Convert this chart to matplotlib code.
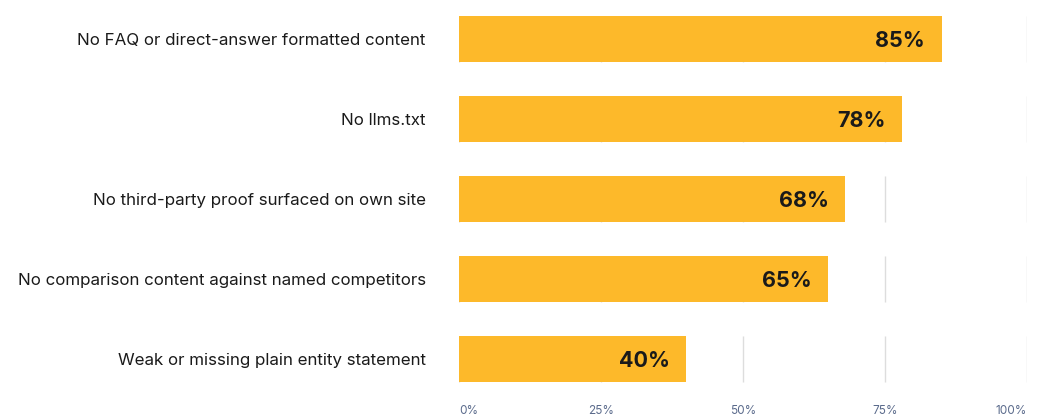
from matplotlib import pyplot as plt

categories = [
    'No FAQ or direct-answer formatted content',
    'No llms.txt',
    'No third-party proof surfaced on own site',
    'No comparison content against named competitors',
    'Weak or missing plain entity statement',
]
values = [85, 78, 68, 65, 40]
ticks = [0, 25, 50, 75, 100]
tick_labels = ['0%', '25%', '50%', '75%', '100%']

bar_color = '#FDB92A'
grid_color = '#DDDDDD'
bar_h = 0.575

plt.rcParams['font.family'] = ['Inter', 'DejaVu Sans']

fig = plt.figure(figsize=(10.4, 4.19), dpi=100)
ax = fig.add_axes([459 / 1040, 1 - 399 / 419, 568 / 1040, 400 / 419])

ypos = list(range(len(categories)))

# grid segments only alongside each bar row
for y in ypos:
    ax.vlines(ticks, y - bar_h / 2, y + bar_h / 2, colors=grid_color, linewidth=1, zorder=1)

ax.barh(ypos, values, height=bar_h, color=bar_color, zorder=2)

for y, v in zip(ypos, values):
    ax.annotate(f'{v}%', (v, y), xytext=(-12, -1.5), textcoords='offset points',
                ha='right', va='center', fontsize=15.5, fontweight='bold',
                color='#1a1a1a', zorder=3)

ax.set_xlim(0, 100)
ax.set_ylim(len(categories) - 0.5, -0.5)

ax.set_yticks(ypos)
ax.set_yticklabels(categories, fontsize=12.2, color='#1a1a1a')
ax.tick_params(axis='y', length=0, pad=24)

ax.set_xticks(ticks)
ax.set_xticklabels(tick_labels, fontsize=8.5, color='#5B6B8C')
ax.tick_params(axis='x', length=0, pad=4)
xl = ax.get_xticklabels()
xl[0].set_ha('left')
xl[-1].set_ha('right')

for s in ax.spines.values():
    s.set_visible(False)

plt.savefig('out.png', dpi=100)
